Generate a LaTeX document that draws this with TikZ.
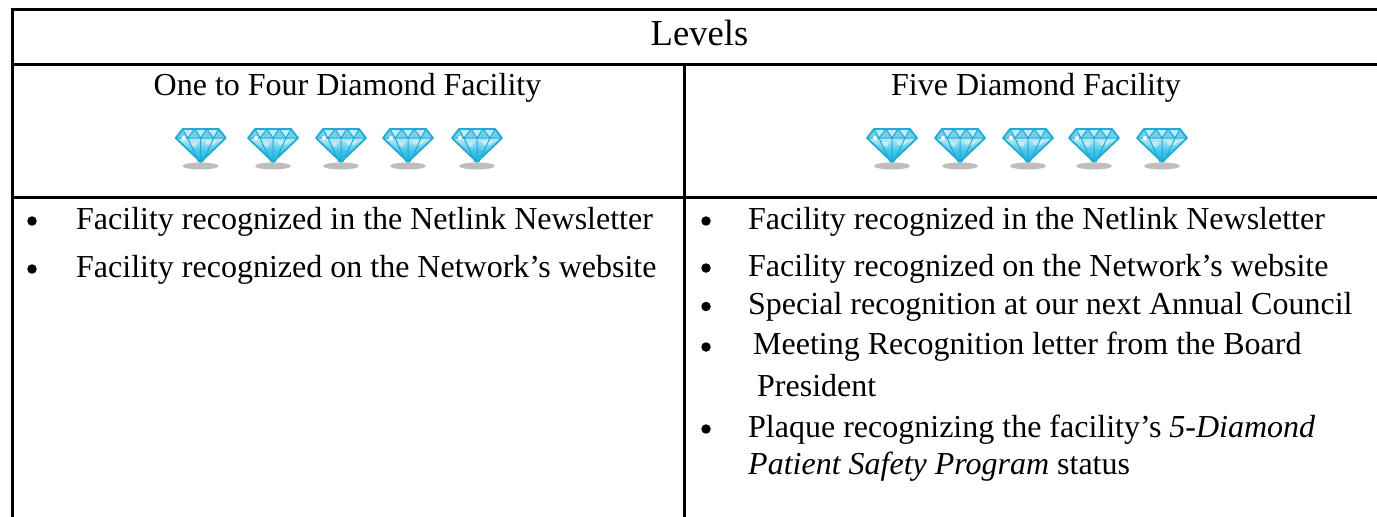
\documentclass[tikz,border=0pt]{standalone}
\usepackage{fontspec}
\setmainfont{Liberation Serif}
\definecolor{gemdark}{RGB}{35,170,210}
\definecolor{gemdeep}{RGB}{15,180,228}
\definecolor{gemlight}{RGB}{195,235,246}
\definecolor{gempale}{RGB}{110,208,235}
\definecolor{gemshadow}{RGB}{190,190,190}
\tikzset{
  x=1pt,y=-1pt,
  rule/.style={line width=3pt,black},
  txt/.style={anchor=base west,inner sep=0pt,font=\fontsize{32}{38}\selectfont},
  ctr/.style={anchor=base,inner sep=0pt,font=\fontsize{32}{38}\selectfont},
  head/.style={anchor=base,inner sep=0pt,font=\fontsize{36.6}{44}\selectfont},
  bul/.style={circle,fill=black,inner sep=0pt,minimum size=9.5pt},
  gem/.pic={
    \fill[gemshadow] (0,21) ellipse [x radius=18,y radius=3.5];
    \shade[top color=gemlight,bottom color=gemdeep,middle color=gemdeep!75]
      (-25,-7) -- (25,-7) -- (0,17) -- cycle;
    \fill[gemlight] (-18,-16) -- (18,-16) -- (25,-7) -- (-25,-7) -- cycle;
    \fill[gempale] (-25,-7) -- (-18,-16) -- (-13,-7) -- cycle
      (-13,-7) -- (-6,-16) -- (0,-7) -- cycle
      (0,-7) -- (6,-16) -- (13,-7) -- cycle
      (13,-7) -- (18,-16) -- (25,-7) -- cycle;
    \fill[white,opacity=.45] (-10,-3) -- (-3,-3) -- (-5,2) -- (-10,1) -- cycle
      (5,-4) -- (17,-4) -- (12,0) -- (6,0) -- cycle;
    \draw[gemdark,line width=1pt] (-25,-7) -- (25,-7)
      (-18,-16) -- (-13,-7) -- (-6,-16) -- (0,-7) -- (6,-16) -- (13,-7) -- (18,-16)
      (-13,-7) -- (-2,17) (13,-7) -- (2,17) (0,-7) -- (0,17);
    \draw[gemdark,line width=1.8pt,line join=round]
      (-18,-16) -- (18,-16) -- (25,-7) -- (0,17) -- (-25,-7) -- cycle;
    \fill[white] (-17,-7) circle [radius=2];
  }
}
\begin{document}
\begin{tikzpicture}
\useasboundingbox (0,0) rectangle (1377,517);
\coordinate (tl) at (12,9.5); \coordinate (tr) at (1377,9.5);
\coordinate (ml) at (12,64); \coordinate (mr) at (1377,64);
\coordinate (rl) at (12,197); \coordinate (rr) at (1377,197);
\coordinate (bl) at (12,517);
\coordinate (ct) at (684,64); \coordinate (cb) at (684,517);
\draw[rule] (bl) -- (tl) -- (tr);
\draw[rule] (ml) -- (mr);
\draw[rule] (rl) -- (rr);
\draw[rule] (ct) -- (cb);
\node[head] (levels) at (699.5,45.3) {Levels};
\node[ctr] (h1) at (347.5,95) {One to Four Diamond Facility};
\node[ctr] (h2) at (1036,95) {Five Diamond Facility};
\foreach \x in {200.7,273,341,408,477,892,960,1028,1094,1162}{\pic at (\x,145) {gem};}
\node[bul] (b1) at (32,221) {};
\node[txt] (t1) at (76,229) {Facility recognized in the Netlink Newsletter};
\node[bul] (b2) at (32,269) {};
\node[txt] (t2) at (76,277) {Facility recognized on the Network’s website};
\node[bul] (b3) at (706,221) {};
\node[txt] (t3) at (748,229) {Facility recognized in the Netlink Newsletter};
\node[bul] (b4) at (706,268) {};
\node[txt] (t4) at (748,276) {Facility recognized on the Network’s website};
\node[bul] (b5) at (706,306.5) {};
\node[txt] (t5) at (748,314) {Special recognition at our next Annual Council};
\node[bul] (b6) at (706,347) {};
\node[txt] (t6) at (753,354) {Meeting Recognition letter from the Board};
\node[txt] (t7) at (757,396) {President};
\node[bul] (b7) at (706,429) {};
\node[txt] (t8) at (748,437) {Plaque recognizing the facility’s \textit{5-Diamond}};
\node[txt] (t9) at (748,474) {\textit{Patient Safety Program} status};
\end{tikzpicture}
\end{document}
